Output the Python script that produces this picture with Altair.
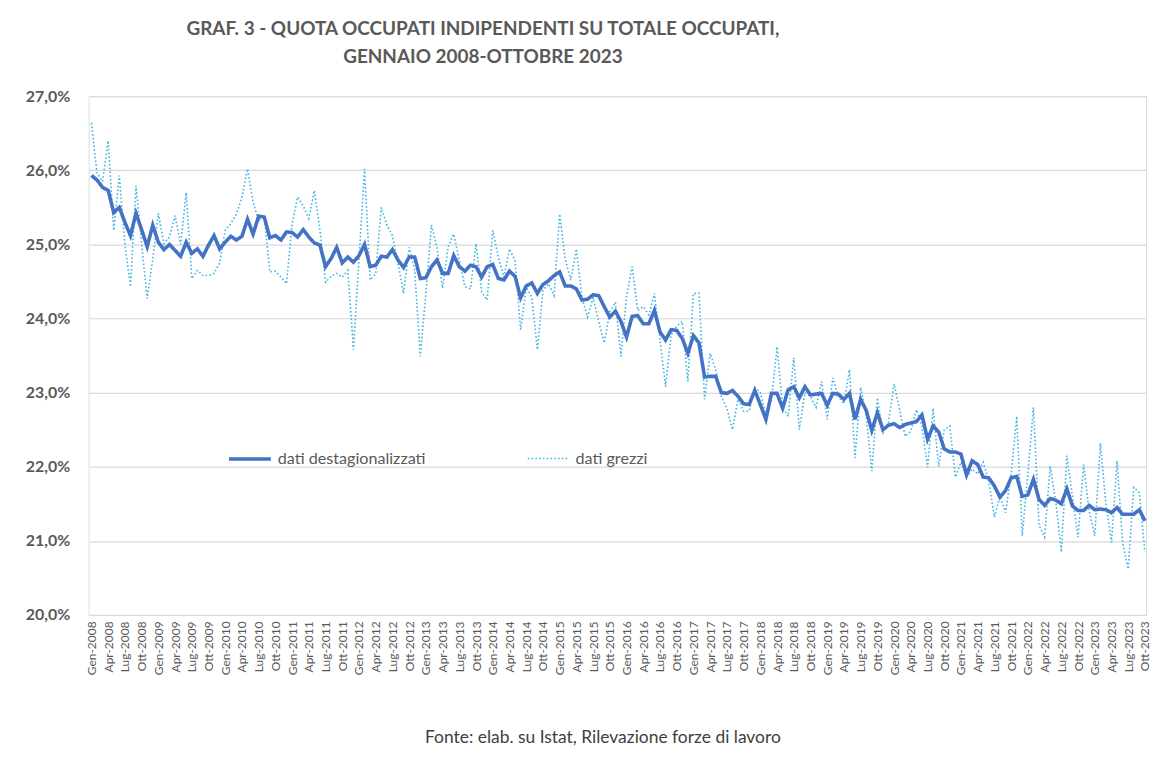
import altair as alt
import pandas as pd

# Monthly data, Gen-2008 .. Ott-2023 (190 months)
destag = [
    25.93, 25.87, 25.77, 25.73, 25.43, 25.50, 25.30, 25.12, 25.42, 25.20, 24.97, 25.26,
    25.03, 24.93, 25.00, 24.92, 24.84, 25.03, 24.88, 24.94, 24.84, 24.99, 25.12, 24.94,
    25.03, 25.11, 25.06, 25.11, 25.34, 25.14, 25.38, 25.37, 25.09, 25.12, 25.06, 25.17,
    25.16, 25.10, 25.20, 25.10, 25.02, 24.99, 24.70, 24.81, 24.96, 24.75, 24.83, 24.76,
    24.85, 25.00, 24.70, 24.72, 24.84, 24.83, 24.93, 24.79, 24.69, 24.83, 24.83, 24.54,
    24.55, 24.70, 24.79, 24.61, 24.61, 24.85, 24.70, 24.64, 24.72, 24.70, 24.56, 24.70,
    24.73, 24.54, 24.52, 24.64, 24.57, 24.28, 24.44, 24.48, 24.34, 24.46, 24.51, 24.58,
    24.63, 24.44, 24.44, 24.40, 24.25, 24.26, 24.32, 24.31, 24.16, 24.02, 24.10, 23.96,
    23.75, 24.03, 24.04, 23.93, 23.93, 24.11, 23.82, 23.71, 23.85, 23.84, 23.73, 23.53,
    23.77, 23.67, 23.21, 23.22, 23.22, 23.00, 22.99, 23.03, 22.95, 22.85, 22.84, 23.03,
    22.84, 22.64, 22.99, 22.99, 22.79, 23.04, 23.08, 22.93, 23.08, 22.97, 22.98, 22.99,
    22.83, 22.99, 22.98, 22.91, 22.99, 22.64, 22.91, 22.76, 22.49, 22.73, 22.50, 22.56,
    22.58, 22.53, 22.57, 22.59, 22.61, 22.70, 22.37, 22.55, 22.47, 22.24, 22.20, 22.20,
    22.17, 21.89, 22.08, 22.03, 21.86, 21.85, 21.74, 21.59, 21.68, 21.85, 21.87, 21.60,
    21.62, 21.83, 21.56, 21.48, 21.57, 21.55, 21.50, 21.70, 21.47, 21.41, 21.41, 21.48,
    21.42, 21.43, 21.42, 21.38, 21.45, 21.36, 21.36, 21.36, 21.42, 21.27,
]

grezzi = [
    26.64, 25.97, 25.85, 26.40, 25.19, 25.93, 25.01, 24.43, 25.79, 25.01, 24.27, 24.80,
    25.42, 25.01, 25.10, 25.39, 25.00, 25.70, 24.54, 24.65, 24.58, 24.58, 24.61, 24.75,
    25.19, 25.28, 25.41, 25.64, 26.02, 25.57, 25.32, 25.39, 24.63, 24.64, 24.56, 24.47,
    25.28, 25.64, 25.52, 25.35, 25.73, 25.19, 24.49, 24.57, 24.61, 24.56, 24.65, 23.58,
    24.80, 26.02, 24.52, 24.60, 25.50, 25.26, 25.12, 24.74, 24.34, 24.96, 24.65, 23.49,
    24.34, 25.26, 24.96, 24.41, 24.97, 25.14, 24.79, 24.43, 24.40, 25.01, 24.36, 24.25,
    25.19, 24.83, 24.56, 24.94, 24.78, 23.85, 24.42, 24.29, 23.58, 24.38, 24.47, 24.31,
    25.41, 24.80, 24.52, 24.94, 24.28, 24.02, 24.28, 23.96, 23.67, 24.09, 24.22, 23.49,
    24.30, 24.70, 24.11, 24.16, 24.05, 24.34, 23.71, 23.08, 23.78, 23.90, 23.96, 23.15,
    24.34, 24.34, 22.91, 23.53, 23.31, 22.95, 22.79, 22.50, 22.91, 22.75, 22.75, 23.07,
    23.00, 22.70, 22.90, 23.62, 22.80, 22.68, 23.47, 22.50, 23.00, 22.95, 22.80, 23.15,
    22.64, 23.20, 22.95, 22.85, 23.31, 22.12, 23.07, 22.70, 21.94, 22.93, 22.46, 22.60,
    23.12, 22.77, 22.41, 22.48, 22.77, 22.55, 21.99, 22.79, 22.00, 22.50, 22.55, 21.86,
    22.06, 21.86, 21.97, 21.90, 22.06, 21.80, 21.32, 21.60, 21.38, 21.90, 22.68, 21.07,
    21.90, 22.80, 21.21, 21.05, 22.01, 21.53, 20.85, 22.15, 21.60, 21.05, 22.03, 21.40,
    21.07, 22.32, 21.50, 20.98, 22.08, 20.98, 20.62, 21.72, 21.65, 20.85,
]

month_abbr = ["Gen", "Apr", "Lug", "Ott"]
years = list(range(2008, 2024))
tick_labels = [f"{m}-{y}" for y in years for m in month_abbr]
tick_values = list(range(0, 190, 3))

series_names = ["dati destagionalizzati", "dati grezzi"]
series_colors = ["#4472C4", "#3FB4E6"]

df = pd.concat([
    pd.DataFrame({"idx": range(len(destag)), "value": destag, "serie": series_names[0]}),
    pd.DataFrame({"idx": range(len(grezzi)), "value": grezzi, "serie": series_names[1]}),
])

label_js = "[" + ",".join(f"'{l}'" for l in tick_labels) + "][round(datum.value/3)]"

FONT = "Lato"
GREY = "#595959"

x = alt.X(
    "idx:Q",
    scale=alt.Scale(domain=[-0.5, 189.2], nice=False, zero=False),
    axis=alt.Axis(
        values=tick_values, labelExpr=label_js, labelAngle=-90, labelAlign="right",
        labelBaseline="middle", labelFontSize=12, labelColor=GREY, labelFont=FONT,
        labelOverlap=False, labelFlush=False, labelBound=False, labelPadding=6,
        grid=False, ticks=False, domain=False,
        title="Fonte: elab. su Istat, Rilevazione forze di lavoro",
        titleFont=FONT, titleFontSize=17.5, titleFontWeight="normal", titleColor="#404040",
        titleX=516, titleY=123, titleAlign="center", titleBaseline="middle",
    ),
)
y = alt.Y(
    "value:Q",
    scale=alt.Scale(domain=[20, 27], nice=False, zero=False),
    axis=alt.Axis(
        values=list(range(20, 28)),
        labelExpr="replace(format(datum.value, '.1f'), '.', ',') + '%'",
        grid=True, gridColor="#d9d9d9", gridWidth=1.2, domain=False, ticks=False,
        labelFont=FONT, labelFontSize=16, labelFontWeight="bold", labelColor=GREY,
        labelPadding=19, title=None,
    ),
)

legend = alt.Legend(
    title=None, orient="none", legendX=139, legendY=341, direction="horizontal",
    symbolType="stroke", symbolSize=1764, labelFont=FONT, labelFontSize=16.2,
    labelColor=GREY, labelOffset=5, columnPadding=98,
)
color = alt.Color("serie:N", scale=alt.Scale(domain=series_names, range=series_colors), legend=legend)
dash = alt.StrokeDash("serie:N", scale=alt.Scale(domain=series_names, range=[[1, 0], [1.6, 2.2]]), legend=legend)
width = alt.StrokeWidth("serie:N", scale=alt.Scale(domain=series_names, range=[3.6, 1.6]), legend=legend)

base = alt.Chart(df)
raw = base.transform_filter(alt.datum.serie == series_names[1]).mark_line().encode(
    x=x, y=y, color=color, strokeDash=dash, strokeWidth=width)
des = base.transform_filter(alt.datum.serie == series_names[0]).mark_line().encode(
    x=x, y=y, color=color, strokeDash=dash, strokeWidth=width)

chart = alt.layer(raw, des).properties(
    width=1062, height=521,
    autosize=alt.AutoSizeParams(type="none"),
    padding={"left": 81, "top": 87, "right": 7, "bottom": 132},
    title=alt.TitleParams(
        text=["GRAF. 3 - QUOTA OCCUPATI INDIPENDENTI SU TOTALE OCCUPATI,",
              "GENNAIO 2008-OTTOBRE 2023"],
        font=FONT, fontSize=19, fontWeight="bold", color=GREY, anchor="middle",
        dx=-135, offset=21, lineHeight=28,
    ),
).configure_view(stroke=None).configure(background="white")

chart.save("out.html", embed_options={"renderer": "svg", "actions": False})
